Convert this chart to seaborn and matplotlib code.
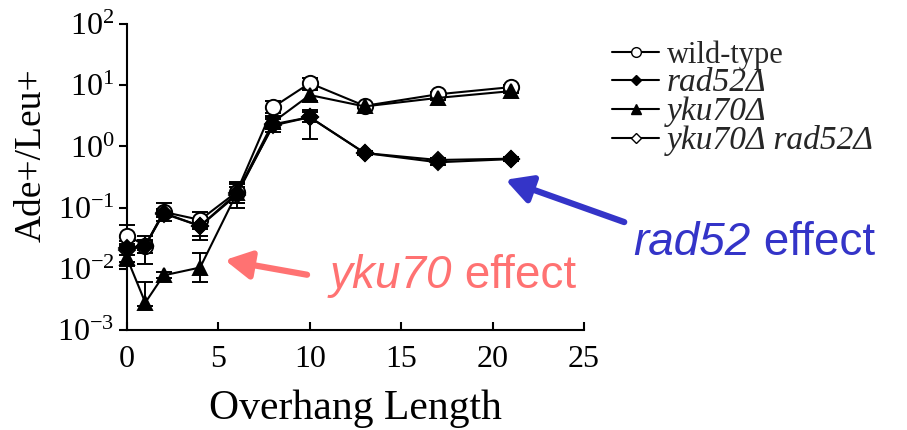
import numpy as np
import pandas as pd
import seaborn as sns
import matplotlib
matplotlib.use("Agg")
import matplotlib.pyplot as plt
from matplotlib.lines import Line2D
from matplotlib.ticker import FixedLocator, FuncFormatter
from matplotlib.transforms import offset_copy

# Overhang lengths (nt)
overhang = [0, 1, 2, 4, 6, 8, 10, 13, 17, 21]

# Ade+/Leu+ ratios per strain, with lower / upper error limits
wt = [0.035, 0.024, 0.085, 0.063, 0.18, 4.4, 10.8, 4.6, 7.1, 9.3]
wt_lo = [0.024, 0.012, 0.060, 0.045, 0.12, 3.5, 9.0, 4.2, 6.4, 8.5]
wt_hi = [0.052, 0.035, 0.120, 0.085, 0.26, 5.5, 13.0, 5.0, 7.8, 10.2]

rad52 = [0.022, 0.024, 0.080, 0.050, 0.17, 2.2, 3.0, 0.78, 0.55, 0.62]
rad52_lo = [0.017, 0.020, 0.070, 0.030, 0.12, 1.7, 1.3, 0.72, 0.50, 0.57]
rad52_hi = [0.028, 0.028, 0.090, 0.065, 0.24, 3.0, 4.0, 0.84, 0.60, 0.68]

yku70 = [0.015, 0.0028, 0.0078, 0.0105, 0.17, 2.5, 6.9, 4.5, 6.2, 8.0]
yku70_lo = [0.011, 0.0025, 0.0070, 0.0060, 0.10, 2.0, 5.5, 4.2, 5.8, 7.5]
yku70_hi = [0.020, 0.0060, 0.0090, 0.0180, 0.25, 3.1, 8.5, 4.8, 6.6, 8.5]

double = [0.020, 0.024, 0.082, 0.050, 0.16, 2.3, 3.0, 0.78, 0.60, 0.63]
double_lo = [0.013, 0.018, 0.070, 0.035, 0.12, 1.9, 2.5, 0.72, 0.55, 0.58]
double_hi = [0.025, 0.030, 0.095, 0.065, 0.22, 2.8, 3.6, 0.84, 0.65, 0.68]

labels = ["wild-type", "rad52Δ", "yku70Δ", "yku70Δ rad52Δ"]

sns.set_theme(style="ticks")
plt.rcParams["font.family"] = ["Liberation Serif", "DejaVu Serif"]
plt.rcParams["mathtext.fontset"] = "custom"
plt.rcParams["mathtext.rm"] = "Liberation Serif"

fig = plt.figure(figsize=(9.07, 4.3), dpi=100)
ax = fig.add_axes([127 / 907, 1 - 330 / 430, 457 / 907, 306 / 430])

series = [
    (wt, wt_lo, wt_hi, dict(marker="o", ms=11, mfc="white")),
    (double, double_lo, double_hi, dict(marker="D", ms=8, mfc="white")),
    (rad52, rad52_lo, rad52_hi, dict(marker="D", ms=8, mfc="black")),
    (yku70, yku70_lo, yku70_hi, dict(marker="^", ms=10, mfc="black")),
]

for vals, lo, hi, style in series:
    df = pd.DataFrame({"x": overhang, "y": vals})
    v = np.array(vals)
    ax.errorbar(overhang, vals, yerr=[v - np.array(lo), np.array(hi) - v],
                fmt="none", ecolor="black", elinewidth=1.4, capsize=6,
                capthick=1.4, zorder=2, clip_on=False)
    sns.lineplot(data=df, x="x", y="y", ax=ax, color="black", lw=1.5,
                 mec="black", mew=1.4, zorder=3, clip_on=False, legend=False,
                 **style)

ax.set_yscale("log")
ax.set_xlim(0, 25)
ax.set_ylim(1e-3, 1e2)
ax.xaxis.set_major_locator(FixedLocator([0, 5, 10, 15, 20, 25]))
ax.yaxis.set_major_locator(FixedLocator([1e-3, 1e-2, 1e-1, 1, 10, 100]))
ax.yaxis.set_minor_locator(FixedLocator([]))
ax.yaxis.set_major_formatter(FuncFormatter(
    lambda v, p: r"$\mathregular{10^{%d}}$" % int(round(np.log10(v)))))

for s in ["top", "right"]:
    ax.spines[s].set_visible(False)
for s in ["left", "bottom"]:
    ax.spines[s].set_linewidth(1.5)
    ax.spines[s].set_color("black")
ax.tick_params(axis="y", direction="out", length=6, width=1.5, labelsize=23,
               pad=3, colors="black")
ax.tick_params(axis="x", direction="in", length=6, width=1.5, labelsize=23,
               pad=11, colors="black")

ax.set_xlabel("Overhang Length", fontsize=30, color="black", labelpad=11)
ax.set_ylabel("Ade+/Leu+", fontsize=27, color="black")
ax.yaxis.set_label_coords(-0.172, 0.57)

handles = [
    Line2D([], [], color="black", lw=1.5, marker="o", ms=7, mfc="white", mec="black"),
    Line2D([], [], color="black", lw=1.5, marker="D", ms=5, mfc="black", mec="black"),
    Line2D([], [], color="black", lw=1.5, marker="^", ms=7, mfc="black", mec="black"),
    Line2D([], [], color="black", lw=1.5, marker="D", ms=5, mfc="white", mec="black"),
]
leg = fig.legend(handles, labels, loc="upper left",
                 bbox_to_anchor=(612 / 907, 1 - 40 / 430), frameon=False,
                 fontsize=22, handlelength=1.55, handletextpad=0.25,
                 labelspacing=-0.06, borderpad=0, borderaxespad=0)
for t in leg.get_texts()[1:]:
    t.set_style("italic")
    t.set_fontsize(24)

salmon = "#FF7272"
blue = "#3434C8"
arrow = "-|>,head_length=1.3,head_width=0.7"


def effect_label(x, y, gene, color):
    """Italic gene name followed by upright ' effect', sharing one baseline."""
    t1 = ax.text(x, y, gene, color=color, fontsize=33, family="Liberation Sans",
                 style="italic", va="baseline", ha="left", clip_on=False)
    fig.canvas.draw()
    w = t1.get_window_extent().width
    ax.text(x, y, " effect", color=color, fontsize=33, family="Liberation Sans",
            va="baseline", ha="left", clip_on=False,
            transform=offset_copy(ax.transData, fig=fig, x=w, units="dots"))


ax.annotate("", xy=(5.35, 0.0139), xytext=(9.85, 0.0080),
            arrowprops=dict(arrowstyle=arrow, color=salmon, lw=4.5,
                            shrinkA=0, shrinkB=0),
            annotation_clip=False)
effect_label(11.1, 0.0048, "yku70", salmon)

ax.annotate("", xy=(20.7, 0.285), xytext=(27.2, 0.058),
            arrowprops=dict(arrowstyle=arrow, color=blue, lw=4.5,
                            shrinkA=0, shrinkB=0),
            annotation_clip=False)
effect_label(27.7, 0.0168, "rad52", blue)

fig.savefig("out.png", dpi=100)
